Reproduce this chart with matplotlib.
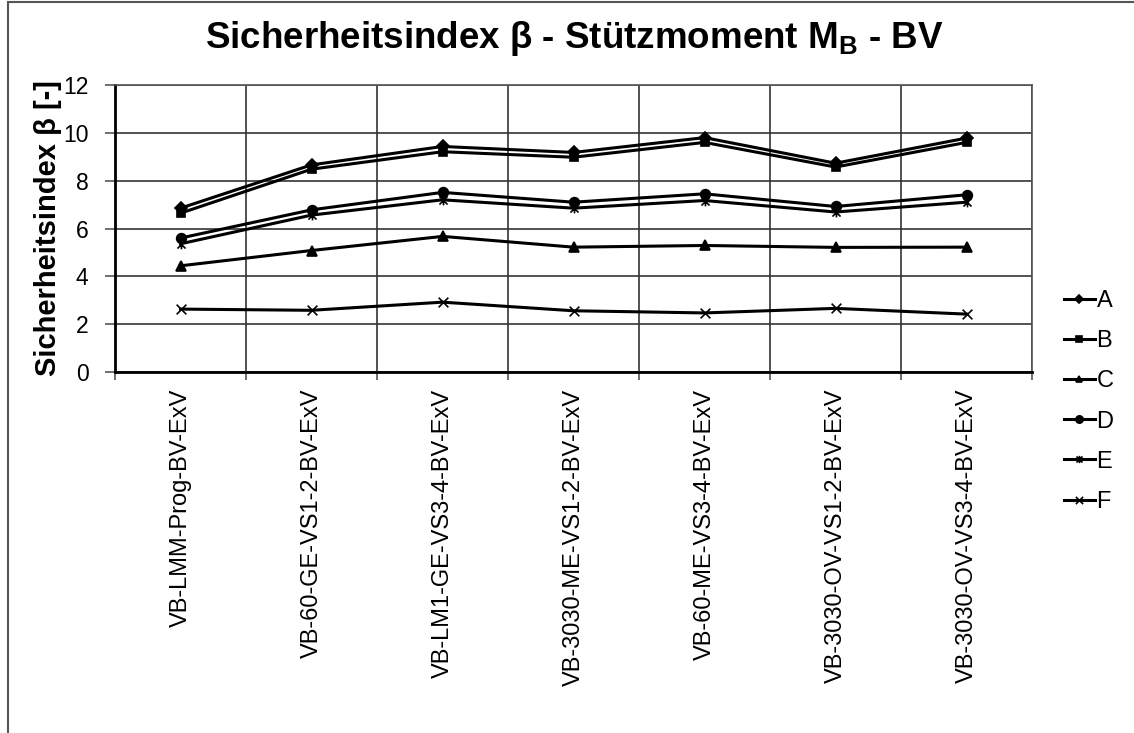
"""
Sicherheitsindex beta - Stuetzmoment M_B - BV
"""

import matplotlib
matplotlib.use('Agg')
from matplotlib import pyplot as plt
from matplotlib.path import Path
from matplotlib.patches import Rectangle
import numpy as np

plt.rcParams['font.family'] = ['Liberation Sans', 'DejaVu Sans']

categories = ['VB-LMM-Prog-BV-ExV', 'VB-60-GE-VS1-2-BV-ExV', 'VB-LM1-GE-VS3-4-BV-ExV',
              'VB-3030-ME-VS1-2-BV-ExV', 'VB-60-ME-VS3-4-BV-ExV', 'VB-3030-OV-VS1-2-BV-ExV',
              'VB-3030-OV-VS3-4-BV-ExV']

beta_A = [6.85, 8.66, 9.43, 9.18, 9.80, 8.73, 9.78]
beta_B = [6.64, 8.48, 9.21, 8.98, 9.60, 8.57, 9.60]
beta_C = [4.44, 5.08, 5.67, 5.22, 5.29, 5.21, 5.22]
beta_D = [5.60, 6.78, 7.51, 7.10, 7.45, 6.92, 7.41]
beta_E = [5.36, 6.56, 7.20, 6.85, 7.17, 6.69, 7.10]
beta_F = [2.63, 2.58, 2.92, 2.56, 2.47, 2.66, 2.42]

series_names = ['A', 'B', 'C', 'D', 'E', 'F']
y_ticks = [0, 2, 4, 6, 8, 10, 12]

# Excel-Stern: x mit senkrechtem Strich
star = Path([(-1, -1), (1, 1), (-1, 1), (1, -1), (0, -1.2), (0, 1.2)],
            [Path.MOVETO, Path.LINETO, Path.MOVETO, Path.LINETO, Path.MOVETO, Path.LINETO])
cross = Path([(-1, -1), (1, 1), (-1, 1), (1, -1)],
             [Path.MOVETO, Path.LINETO, Path.MOVETO, Path.LINETO])

styles = [('D', 6), ('s', 6), ('^', 6.5), ('o', 7), (star, 7), (cross, 7)]
data = [beta_A, beta_B, beta_C, beta_D, beta_E, beta_F]

fig = plt.figure(figsize=(11.34, 7.33), dpi=100)
ax = fig.add_axes([115 / 1134, 1 - 372 / 733, (1032 - 115) / 1134, (372 - 85) / 733])

x = np.arange(len(categories))
for name, vals, (mk, ms) in zip(series_names, data, styles):
    ax.plot(x, vals, color='black', lw=2.2, marker=mk, markersize=ms,
            markeredgewidth=1.2, markerfacecolor='black', markeredgecolor='black', label=name)

ax.set_xlim(-0.5, len(categories) - 0.5)
ax.set_ylim(0, 12)
ax.set_yticks(y_ticks)
ax.set_yticklabels([str(v) for v in y_ticks], fontsize=16.5)

ax.set_xticks(x)
ax.set_xticklabels(categories, rotation=90, fontsize=17)
ax.tick_params(axis='x', length=0, pad=12)
ax.set_xticks(np.arange(len(categories) + 1) - 0.5, minor=True)
ax.tick_params(axis='x', which='minor', length=6, direction='out', width=1.2, color='#555555')
ax.tick_params(axis='y', length=7, direction='out', width=1.2, color='#555555', pad=12)

ax.grid(True, which='minor', axis='x', color='#333333', lw=1.2)
ax.grid(True, which='major', axis='y', color='#333333', lw=1.2)
ax.set_axisbelow(True)

for s in ['top', 'right']:
    ax.spines[s].set_color('#555555')
    ax.spines[s].set_linewidth(1.2)
for s in ['left', 'bottom']:
    ax.spines[s].set_color('black')
    ax.spines[s].set_linewidth(2)

ax.set_ylabel('Sicherheitsindex β [-]', fontsize=21, fontweight='bold', labelpad=1)
fig.text(574 / 1134, 1 - 39 / 733, r'Sicherheitsindex β - Stützmoment M$_\mathregular{B}$ - BV',
         ha='center', va='center', fontsize=26.5, fontweight='bold')

ax.legend(loc='upper left', bbox_to_anchor=(1064 / 1134, 1 - 290 / 733),
          bbox_transform=fig.transFigure, frameon=False, fontsize=17, markerscale=0.75,
          handlelength=1.3, handletextpad=0.08, labelspacing=0.77, borderaxespad=0,
          borderpad=0)

fig.patches.append(Rectangle((8 / 1134, -0.1), 1.2, 1.1 - 2 / 733, transform=fig.transFigure,
                             fill=False, edgecolor='#555555', lw=1.5))

plt.savefig('out.png', dpi=100)
